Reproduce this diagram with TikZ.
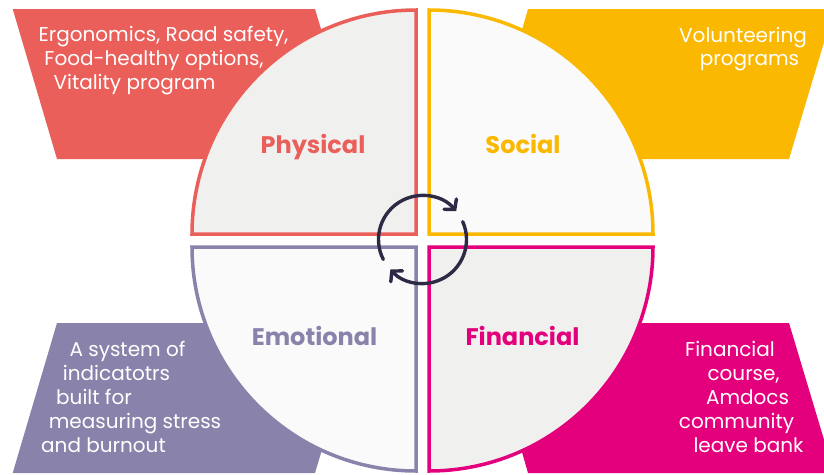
\documentclass[tikz,border=0pt]{standalone}
\usepackage{fontspec}
\setmainfont{Poppins}
\usetikzlibrary{arrows.meta}
\definecolor{cred}{HTML}{EB5F5A}
\definecolor{cyel}{HTML}{FBB800}
\definecolor{cpur}{HTML}{8983AC}
\definecolor{cmag}{HTML}{E4007D}
\definecolor{cnavy}{HTML}{2E2A45}
\definecolor{fgray}{HTML}{F0F0EE}
\definecolor{fwhite}{HTML}{FAFAFA}
\tikzset{
  banner/.style={fill=#1, draw=none},
  quad/.style={draw=#1, line width=3.5pt, line join=miter},
  btext/.style={anchor=base, text=white, inner sep=0pt, font=\fontsize{20}{24}\selectfont},
  qlabel/.style={anchor=base, text=#1, inner sep=0pt, font=\fontsize{24}{30}\selectfont\bfseries},
  cyc/.style={draw=cnavy, line width=3.4pt, line cap=round, -{Straight Barb[length=7pt,width=16pt,line cap=round]}}
}
\begin{document}
\begin{tikzpicture}[x=1pt,y=-1pt]
\useasboundingbox (0,0) rectangle (824,474);
\fill[white] (0,0) rectangle (824,474);
% banners
\fill[cred] (12.7,9) -- (315,9) -- (360,159) -- (57,159) -- cycle;
\fill[cyel] (528,9) -- (834,9) -- (789,159) -- (485,159) -- cycle;
\fill[cpur] (57,323) -- (360,323) -- (315,473) -- (12.7,473) -- cycle;
\fill[cmag] (485,323) -- (789,323) -- (834,473) -- (528,473) -- cycle;
% quadrants
\draw[quad=cred, fill=fgray] (416,234) -- (192,234) arc[start angle=180,end angle=90,radius=224pt] -- cycle;
\draw[quad=cyel, fill=fwhite] (429,234) -- (429,10) arc[start angle=90,end angle=0,radius=224pt] -- cycle;
\draw[quad=cpur, fill=fwhite] (416,247) -- (416,471) arc[start angle=270,end angle=180,radius=224pt] -- cycle;
\draw[quad=cmag, fill=fgray] (429,247) -- (653,247) arc[start angle=0,end angle=-90,radius=224pt] -- cycle;
% labels
\node[qlabel=cred] (lphys) at (313,153) {Physical};
\node[qlabel=cyel] (lsoc) at (523,153) {Social};
\node[qlabel=cpur] (lemo) at (314.5,345) {Emotional};
\node[qlabel=cmag] (lfin) at (522.5,345) {Financial};
% banner texts
\node[btext] (r1) at (163.5,41) {Ergonomics, Road safety,};
\node[btext] (r2) at (154,65) {Food-healthy options,};
\node[btext] (r3) at (134.5,89) {Vitality program};
\node[btext] (y1) at (743,42) {Volunteering};
\node[btext] (y2) at (749.5,65) {programs};
\node[btext] (p1) at (127.5,356) {A system of};
\node[btext] (p2) at (116.5,380) {indicatotrs};
\node[btext] (p3) at (94,404) {built for};
\node[btext] (p4) at (135,428) {measuring stress};
\node[btext] (p5) at (103.5,452) {and burnout};
\node[btext] (m1) at (730,356) {Financial};
\node[btext] (m2) at (743.5,380) {course,};
\node[btext] (m3) at (747.5,404) {Amdocs};
\node[btext] (m4) at (736.5,428) {community};
\node[btext] (m5) at (748.5,452) {leave bank};
% cycle
\coordinate (cc) at (422.5,239.5);
\draw[cyc] ([shift={(207:44pt)}]cc) arc[start angle=207,end angle=40,radius=44pt];
\draw[cyc] ([shift={(24:44pt)}]cc) arc[start angle=24,end angle=-137,radius=44pt];
\end{tikzpicture}
\end{document}
